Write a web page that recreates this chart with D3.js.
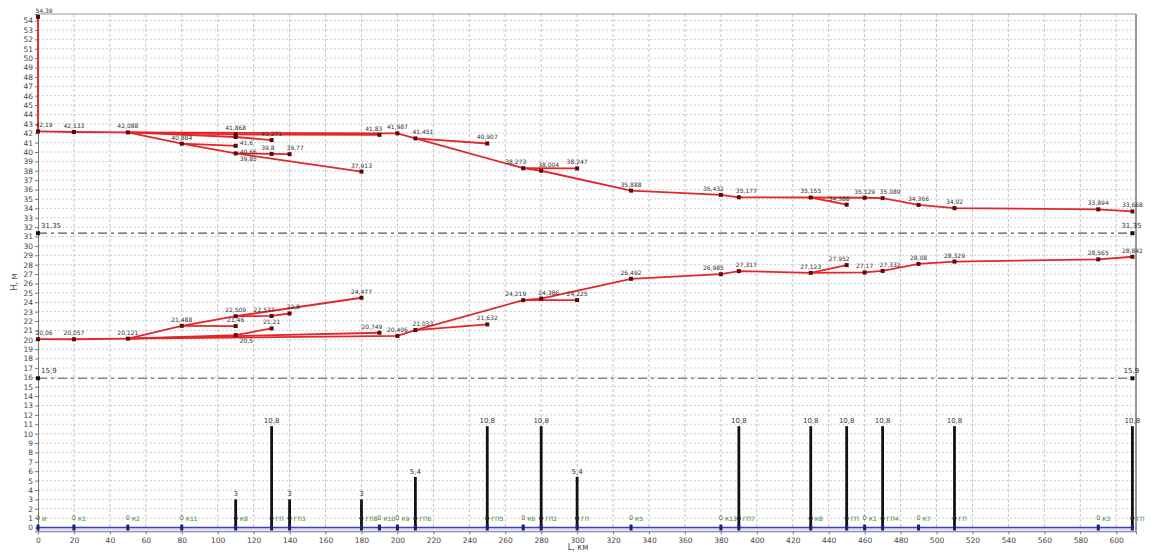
<!DOCTYPE html>
<html>
<head>
<meta charset="utf-8">
<script src="https://cdn.jsdelivr.net/npm/d3@7"></script>
<style>
  body { margin: 0; background: #fff; }
  svg text { font-family: "DejaVu Sans", Arial, sans-serif; }
</style>
</head>
<body>
<svg class="svg" width="1153" height="554"></svg>
<script>
// узлы трассы (км), названия и высоты столбиков
const nodeKm = [0, 20, 50, 80, 110, 130, 140, 180, 190, 200, 210, 250, 270, 280, 300, 330, 380, 390, 430, 450, 460, 470, 490, 510, 590, 609];
const nodeName = ["И", "К1", "К2", "К11", "К8", "ГП", "ГП3", "ГП8", "К10", "К9", "ГП6", "ГП5", "К6", "ГП2", "ГП", "К5", "К13", "ГП7", "К8", "ГП", "К1", "ГП4", "К7", "ГП", "К3", "ГП"];
const nodeH = [0, 0, 0, 0, 3, 10.8, 3, 3, 0, 0, 5.4, 10.8, 0, 10.8, 5.4, 0, 0, 10.8, 10.8, 10.8, 0, 10.8, 0, 10.8, 0, 10.8];

// подающая линия (напоры)
const supplyMain = [[0, 42.19], [20, 42.133], [50, 42.088], [200, 41.987], [210, 41.451], [270, 38.273], [280, 38.004], [330, 35.888], [380, 35.432], [390, 35.177], [430, 35.155], [460, 35.129], [470, 35.089], [490, 34.366], [510, 34.02], [590, 33.894], [609, 33.668]];
const supplyBr1 = [[50, 42.088], [110, 41.868], [190, 41.83]];
const supplyBr2 = [[50, 42.088], [110, 41.6], [130, 41.271]];
const supplyBr3 = [[50, 42.088], [80, 40.884], [110, 39.85], [180, 37.913]];
const supplyBr4 = [[80, 40.884], [110, 40.66]];
const supplyBr5 = [[110, 39.85], [130, 39.8], [140, 39.77]];
const supplyBr6 = [[210, 41.451], [250, 40.907]];
const supplyBr7 = [[270, 38.273], [300, 38.247]];
const supplyBr8 = [[430, 35.155], [450, 34.388]];
const sourcePeak = [[0, 42.19], [0, 54.39]];

// обратная линия
const returnMain = [[0, 20.06], [20, 20.057], [50, 20.121], [200, 20.406], [210, 21.033], [270, 24.219], [280, 24.386], [330, 26.492], [380, 26.985], [390, 27.317], [430, 27.123], [460, 27.17], [470, 27.332], [490, 28.08], [510, 28.329], [590, 28.565], [609, 28.842]];
const returnBr1 = [[50, 20.121], [190, 20.749]];
const returnBr2 = [[50, 20.121], [110, 20.5], [130, 21.21]];
const returnBr3 = [[50, 20.121], [80, 21.488], [110, 22.509], [180, 24.477]];
const returnBr4 = [[80, 21.488], [110, 21.46]];
const returnBr5 = [[110, 22.509], [130, 22.537], [140, 22.8]];
const returnBr6 = [[210, 21.033], [250, 21.632]];
const returnBr7 = [[270, 24.219], [300, 24.225]];
const returnBr8 = [[430, 27.123], [450, 27.952]];

// уровни (пунктир)
const levels = [31.35, 15.9];

const xTicks = d3.range(0, 601, 20);
const yTicks = d3.range(0, 55, 1);

const fmt = v => String(v).replace(".", ",");

const svg = d3.select(".svg");
const x = d3.scaleLinear().domain([0, 611]).range([38, 1136]);
const y = d3.scaleLinear().domain([-0.4, 54.7]).range([531.3, 14]);

// сетка
svg.append("g").selectAll("line").data(yTicks).enter().append("line")
  .attr("x1", x(0)).attr("x2", x(611))
  .attr("y1", d => y(d)).attr("y2", d => y(d))
  .attr("stroke", "#c4c4c4").attr("stroke-dasharray", "2,2").attr("stroke-width", 0.8);
svg.append("g").selectAll("line").data(xTicks.slice(1)).enter().append("line")
  .attr("x1", d => x(d)).attr("x2", d => x(d))
  .attr("y1", y(54.7)).attr("y2", y(-0.4))
  .attr("stroke", "#b4b4b4").attr("stroke-dasharray", "3,2").attr("stroke-width", 0.8);

// рамка
svg.append("line").attr("x1", x(0)).attr("x2", x(611)).attr("y1", y(54.7)).attr("y2", y(54.7)).attr("stroke", "#999");
svg.append("line").attr("x1", x(611)).attr("x2", x(611)).attr("y1", y(54.7)).attr("y2", y(-0.4)).attr("stroke", "#999").attr("stroke-width", 2);

// полоса под нулём
svg.append("rect").attr("x", x(0)).attr("y", y(0)).attr("width", x(609) - x(0)).attr("height", y(-0.4) - y(0)).attr("fill", "#dfe1f4");

// оси
const yAxis = svg.append("g").attr("transform", `translate(${x(0)},0)`)
  .call(d3.axisLeft(y).tickValues(yTicks).tickSize(3).tickFormat(d3.format("d")));
const xAxis = svg.append("g").attr("transform", `translate(0,${y(-0.4)})`)
  .call(d3.axisBottom(x).tickValues(xTicks).tickSize(3).tickFormat(d3.format("d")));
[yAxis, xAxis].forEach(a => {
  a.selectAll("text").attr("font-size", 7.5).attr("fill", "#444");
  a.selectAll("line").attr("stroke", "#777");
  a.select(".domain").attr("stroke", "#777");
});
yAxis.selectAll("text").attr("x", -5);
xAxis.selectAll("text").attr("y", 6);

svg.append("text").text("H, м").attr("transform", "translate(17,282) rotate(-90)")
  .attr("text-anchor", "middle").attr("font-size", 8).attr("fill", "#444");
svg.append("text").text("L, км").attr("x", 578).attr("y", 550)
  .attr("text-anchor", "middle").attr("font-size", 8).attr("fill", "#444");

// пунктирные уровни
levels.forEach(v => {
  svg.append("line").attr("x1", x(0)).attr("x2", x(609)).attr("y1", y(v)).attr("y2", y(v))
    .attr("stroke", "#555").attr("stroke-width", 1.2).attr("stroke-dasharray", "9,4,3,4");
  [0, 609].forEach(k => {
    svg.append("rect").attr("x", x(k) - 2).attr("y", y(v) - 2).attr("width", 4).attr("height", 4).attr("fill", "#111");
    svg.append("text").text(fmt(v)).attr("x", k === 0 ? x(k) + 3 : x(k) - 1).attr("y", y(v) - 5)
      .attr("text-anchor", k === 0 ? "start" : "middle").attr("font-size", 7).attr("fill", "#333");
  });
});

// столбики
const nodes = nodeKm.map((k, i) => ({ k, name: nodeName[i], h: nodeH[i] }));
svg.append("g").selectAll("line").data(nodes.filter(d => d.h > 0)).enter().append("line")
  .attr("x1", d => x(d.k)).attr("x2", d => x(d.k))
  .attr("y1", y(0)).attr("y2", d => y(d.h))
  .attr("stroke", "#111").attr("stroke-width", 2.8);
svg.append("g").selectAll("text").data(nodes.filter(d => d.h > 0)).enter().append("text")
  .text(d => fmt(d.h)).attr("x", d => x(d.k)).attr("y", d => y(d.h) - 3)
  .attr("text-anchor", "middle").attr("font-size", 7).attr("fill", "#333");

// нулевая линия
svg.append("line").attr("x1", x(0)).attr("x2", x(609)).attr("y1", y(0)).attr("y2", y(0))
  .attr("stroke", "#3b3fcf").attr("stroke-width", 1.5);
svg.append("g").selectAll("rect").data(nodes).enter().append("rect")
  .attr("x", d => x(d.k) - 1.5).attr("y", y(0) - 3).attr("width", 3).attr("height", 6).attr("fill", "#1b1f7a");

// подписи узлов
svg.append("g").selectAll("text").data(nodes.filter(d => d.h === 0)).enter().append("text")
  .text("0").attr("x", d => x(d.k)).attr("y", y(1) + 2)
  .attr("text-anchor", "middle").attr("font-size", 6.5).attr("fill", "#7a6a30");
svg.append("g").selectAll("circle").data(nodes.filter(d => d.h > 0)).enter().append("circle")
  .attr("cx", d => x(d.k)).attr("cy", y(1)).attr("r", 2).attr("fill", "#222");
svg.append("g").selectAll("text").data(nodes).enter().append("text")
  .text(d => d.name).attr("x", d => x(d.k) + 4).attr("y", y(1) + 3)
  .attr("font-size", 6).attr("fill", "#1f8a1f");

// напорные линии
const allLines = [sourcePeak, supplyMain, supplyBr1, supplyBr2, supplyBr3, supplyBr4, supplyBr5, supplyBr6, supplyBr7, supplyBr8,
  returnMain, returnBr1, returnBr2, returnBr3, returnBr4, returnBr5, returnBr6, returnBr7, returnBr8];
const line = d3.line().x(d => x(d[0])).y(d => y(d[1]));
svg.append("g").selectAll("path").data(allLines).enter().append("path")
  .attr("d", line).attr("fill", "none").attr("stroke", "#e3262a").attr("stroke-width", 1.8);

const pts = new Map();
allLines.forEach(l => l.forEach(p => pts.set(p[0] + ":" + p[1], p)));
const ptList = Array.from(pts.values());
// точка, над которой в том же узле близко есть другая, подписывается справа снизу
const crowded = d => ptList.some(q => q !== d && Math.abs(q[0] - d[0]) < 1 && q[1] > d[1] && q[1] - d[1] < 1.0);
const near = (d, side) => ptList.some(q => {
  const dx = (q[0] - d[0]) * side;
  return dx > 0 && dx < 12 && Math.abs(q[1] - d[1]) < 1.2;
});
const anchor = d => {
  if (crowded(d)) return "start";
  const r = near(d, 1), l = near(d, -1);
  if (r && !l) return "end";
  if (l && !r) return "start";
  return "middle";
};
const labelX = d => {
  if (crowded(d)) return x(d[0]) + 4;
  const a = anchor(d);
  if (a === "end") return x(d[0]) + 3;
  if (a === "start") return x(d[0]) - 3;
  return x(d[0]) + (d[0] === 0 ? 6 : 0);
};
svg.append("g").selectAll("rect").data(ptList).enter().append("rect")
  .attr("x", d => x(d[0]) - 2).attr("y", d => y(d[1]) - 2).attr("width", 4).attr("height", 4)
  .attr("fill", "#5a0a0a");
svg.append("g").selectAll("text").data(ptList).enter().append("text")
  .text(d => fmt(d[1]))
  .attr("x", labelX)
  .attr("y", d => crowded(d) ? y(d[1]) + 8 : y(d[1]) - 4)
  .attr("text-anchor", anchor)
  .attr("font-size", 6).attr("fill", "#333");
</script>
</body>
</html>
